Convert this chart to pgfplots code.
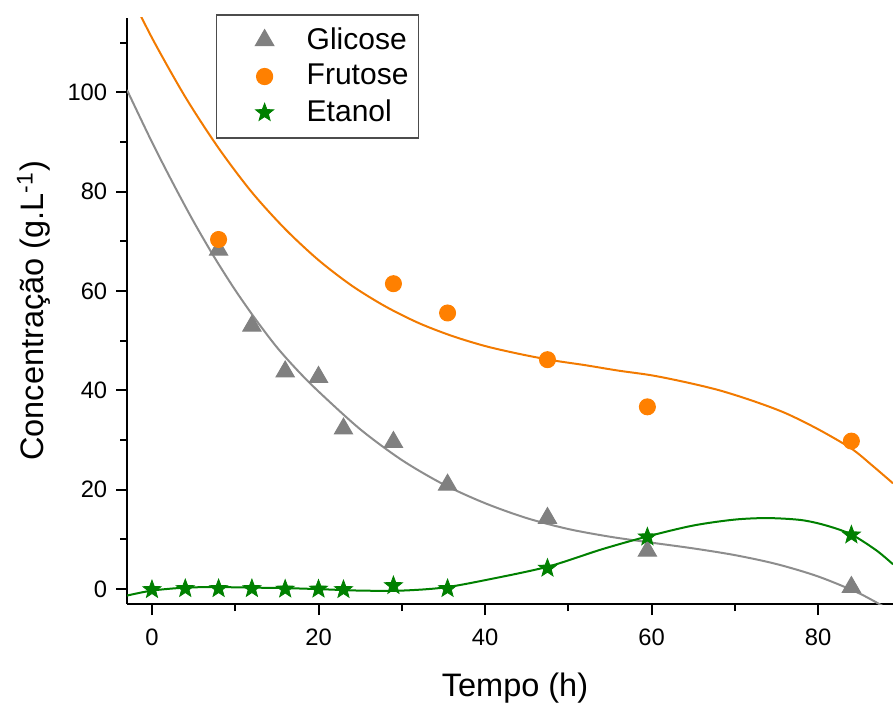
\documentclass[border=0pt]{standalone}
\usepackage{fontspec}
\setmainfont{Liberation Sans}
\usepackage{pgfplots}
\pgfplotsset{compat=1.18}
\usepackage{pgfplotstable}

\definecolor{cgli}{RGB}{128,128,128}
\definecolor{cfru}{RGB}{255,128,0}
\definecolor{ceta}{RGB}{0,128,0}

% filled five-pointed star
\pgfdeclareplotmark{fivestar}{%
  \pgfpathmoveto{\pgfpointpolar{90}{\pgfplotmarksize}}%
  \pgfpathlineto{\pgfpointpolar{126}{0.42\pgfplotmarksize}}%
  \pgfpathlineto{\pgfpointpolar{162}{\pgfplotmarksize}}%
  \pgfpathlineto{\pgfpointpolar{198}{0.42\pgfplotmarksize}}%
  \pgfpathlineto{\pgfpointpolar{234}{\pgfplotmarksize}}%
  \pgfpathlineto{\pgfpointpolar{270}{0.42\pgfplotmarksize}}%
  \pgfpathlineto{\pgfpointpolar{306}{\pgfplotmarksize}}%
  \pgfpathlineto{\pgfpointpolar{342}{0.42\pgfplotmarksize}}%
  \pgfpathlineto{\pgfpointpolar{18}{\pgfplotmarksize}}%
  \pgfpathlineto{\pgfpointpolar{54}{0.42\pgfplotmarksize}}%
  \pgfpathclose
  \pgfusepathqfillstroke
}

% measured concentrations (g/L) vs time (h)
\pgfplotstableread{
t    gli   fru
8    68.3  70.4
12   53.0  nan
16   43.8  nan
20   42.7  nan
23   32.3  nan
29   29.6  61.5
35.5 21.0  55.6
47.5 14.3  46.2
59.5 7.7   36.7
84   0.4   29.8
}\sugars

\pgfplotstableread{
t    eta
0    -0.1
4    0.1
8    0.1
12   0.1
16   0.0
20   0.0
23   -0.1
29   0.7
35.5 0.1
47.5 4.2
59.5 10.5
84   10.9
}\ethanol

% fitted curves
\pgfplotstableread{
t    y
-3   100.5
0    90.0
2.5  81.8
5    74.0
7.5  66.8
10   60.2
12.5 54.2
15   48.7
17.5 44.0
20   39.8
25   32.2
30   26.0
35   21.1
40   17.3
45   14.3
50   12.1
55   10.55
60   9.35
65   8.2
70   6.85
75   5.05
80   2.55
85   -0.9
89   -4.6
}\fitgli

\pgfplotstableread{
t    y
-3   121.1
0    111.0
4    99.1
8    88.8
12   79.9
16   72.5
20   66.25
24   61.1
28   56.95
32   53.6
36   51.0
40   48.95
44   47.4
48   46.1
52   45.1
56   44.0
60   43.05
64   41.7
68   40.1
72   38.0
76   35.5
80   32.2
84   28.3
86.5 24.9
89   21.3
}\fitfru

\pgfplotstableread{
t    y
-3   -1.3
0    -0.3
4    0.3
8    0.4
12   0.3
16   0.2
20   0.0
25   -0.3
30   -0.3
35   0.3
40   1.8
47.5 4.5
54   8.0
59.5 10.6
65   12.8
70   14.0
74   14.3
78   13.9
81   12.8
84   11.0
87   7.8
89   5.0
}\fiteta

\begin{document}
\begin{tikzpicture}
\begin{axis}[
  scale only axis,
  width=306.4pt, height=234.4pt,
  xmin=-3, xmax=89, ymin=-3, ymax=115,
  axis x line*=bottom, axis y line*=left,
  axis line style={line width=0.8pt, -},
  xtick={0,20,40,60,80}, minor xtick={10,30,50,70},
  ytick={0,20,40,60,80,100}, minor ytick={10,30,50,70,90,110},
  tick align=outside,
  major tick length=4.4pt, minor tick length=2.8pt,
  every tick/.style={line width=0.8pt, black},
  /pgf/number format/assume math mode=true,
  ticklabel style={font=\fontsize{9.5}{11}\selectfont},
  xticklabel style={yshift=-2pt},
  xlabel={Tempo (h)},
  ylabel={Concentração (g.L\textsuperscript{-1})},
  label style={font=\fontsize{13}{15}\selectfont},
  xlabel style={yshift=-4pt, xshift=2pt},
  legend style={
    at={(rel axis cs:0.116,1.006)}, anchor=north west,
    draw=black!70, line width=0.5pt,
    font=\fontsize{12}{14}\selectfont,
    inner xsep=2pt, inner ysep=3pt,
    row sep=0.5pt,
  },
  legend cell align=left,
  legend image code/.code={
    \path (0pt,0pt) (31.6pt,0pt);
    \draw[#1] plot coordinates {(17pt,0pt)};
  },
]
% fitted curves
\addplot[cgli!90, line width=0.8pt, smooth, forget plot] table[x=t,y=y] {\fitgli};
\addplot[cfru!95!black, line width=0.8pt, smooth, forget plot] table[x=t,y=y] {\fitfru};
\addplot[ceta, line width=0.8pt, smooth, forget plot] table[x=t,y=y] {\fiteta};

% measured points
\addplot[only marks, mark=triangle*, mark size=4.2pt, color=cgli] table[x=t,y=gli] {\sugars};
\addlegendentry{Glicose}
\addplot[only marks, mark=*, mark size=3.2pt, color=cfru] table[x=t,y=fru] {\sugars};
\addlegendentry{Frutose}
\addplot[only marks, mark=fivestar, mark size=3.8pt, color=ceta,
  mark options={fill=ceta, line width=0.3pt}] table[x=t,y=eta] {\ethanol};
\addlegendentry{Etanol}
\end{axis}
\pgfresetboundingbox
\path ([xshift=-50.8pt,yshift=-39.2pt]current axis.south west)
  rectangle ([yshift=7.2pt]current axis.north east);
\end{tikzpicture}
\end{document}
